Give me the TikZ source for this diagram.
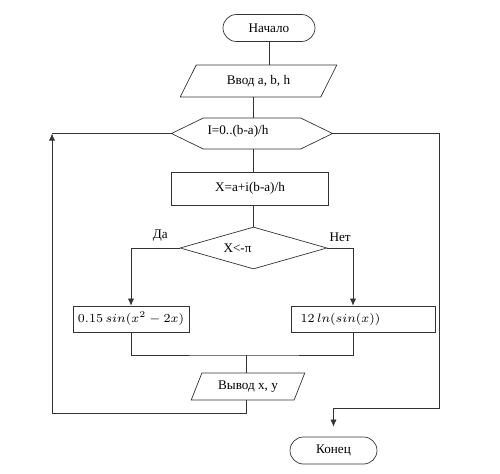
\documentclass[tikz,border=0pt]{standalone}
\usepackage{fontspec}
\setmainfont{Liberation Serif}
\usetikzlibrary{shapes.geometric,shapes.symbols,arrows.meta}
\begin{document}
\begin{tikzpicture}
	[ x=0.02cm, y=-0.02cm,
	  font=\fontsize{7.5}{9}\selectfont,
	  line/.style={draw=black!80},
	  flow/.style={line,-{Latex[length=4pt,width=3.5pt]}},
	  term/.style={line,rectangle,rounded corners=0.27cm,minimum width=1.84cm,minimum height=0.54cm},
	  io/.style={line,trapezium,trapezium stretches,inner sep=0},
	  proc/.style={line,rectangle,minimum height=0.52cm,inner sep=0},
	  hexa/.style={line,signal,signal to=west and east,signal pointer angle=52,inner sep=0},
	  test/.style={line,diamond,inner sep=0},
	  formula/.style={font=\fontsize{6.9}{8}\selectfont} ]

	\useasboundingbox (0,0) rectangle (500,473);

	\node[term] (start) at (269,28) {Начало};
	\node[io,minimum width=3.14cm,minimum height=0.64cm,trapezium left angle=55,trapezium right angle=125] (inp) at (258.5,81) {Ввод a, b, h};
	\node[hexa,minimum width=3.22cm,minimum height=0.62cm,label={[xshift=-0.28cm,yshift=0.04cm]center:I=0..(b-a)/h}] (cyc) at (252,133.5) {};
	\node[proc,minimum width=3.14cm,minimum height=0.66cm] (calc) at (250,188.5) {X=a+i(b-a)/h};
	\node[test,minimum width=2.94cm,minimum height=0.84cm,label={[xshift=-0.32cm]center:X<-π}] (cond) at (253.5,248) {};
	\node[proc,formula,minimum width=2.32cm] (yes) at (131,319) {$0.15\,sin(x^2-2x)$};
	\node[proc,minimum width=2.88cm,label={[formula,xshift=-0.45cm]center:$12\,ln(sin(x))$}] (no) at (363,319) {};
	\node[io,minimum width=2.28cm,minimum height=0.54cm,trapezium left angle=59,trapezium right angle=121] (out) at (248,386.5) {Вывод x, y};
	\node[term,minimum width=1.74cm] (stop) at (333.5,450.5) {Конец};

	\coordinate (join) at (246,355);
	\coordinate (back) at (52,413);
	\coordinate (exit) at (439,408);

	\draw[line] (start.south) -- (start.south |- inp.north);
	\draw[line] (cond.north |- inp.south) -- (cond.north |- cyc.north);
	\draw[line] (cond.north |- cyc.south) -- (cond.north |- calc.north);
	\draw[line] (cond.north |- calc.south) -- (cond.north);

	\draw[flow] (cond.west) -| node[above,pos=0.2] {Да} (yes.north);
	\draw[flow] (cond.east) -| node[above,pos=0.25] {Нет} ([xshift=-0.2cm]no.north);

	\draw[line] (yes.south) |- (join) -| ([xshift=-0.2cm]no.south);
	\draw[line] (join) -- (join |- out.north);

	\draw[flow] (out.south -| join) |- (back) -- (back |- cyc.west);
	\draw[line] (back |- cyc.west) -- (cyc.west);
	\draw[flow,shorten >=0.2cm] (cyc.east) -| (exit) -| (stop.north);

\end{tikzpicture}
\end{document}
